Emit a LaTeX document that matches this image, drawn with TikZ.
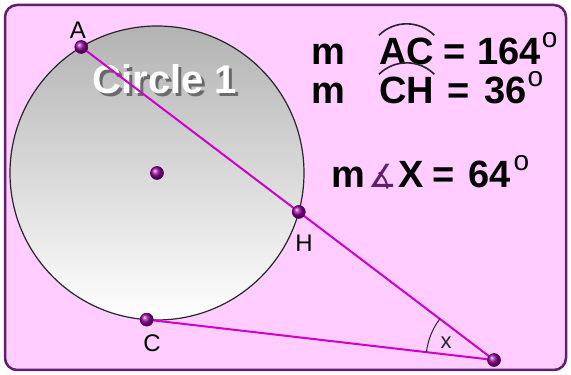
\documentclass[tikz,border=0pt]{standalone}
\usepackage{fontspec}
\setmainfont{Liberation Sans}
\newfontfamily\symfont{DejaVu Sans}
\usetikzlibrary{angles, calc, positioning}

\definecolor{pinkbg}{RGB}{255,205,255}
\definecolor{framecol}{RGB}{96,30,110}
\definecolor{segcol}{RGB}{205,0,205}
\definecolor{dotcol}{RGB}{150,0,160}

\newcommand{\dg}{\kern1pt\raisebox{0.47em}{\fontsize{28}{28}\selectfont\mdseries o}}

\tikzset{
    seg/.style={segcol, line width=2pt},
    dot/.style={circle, inner sep=0pt, minimum size=13pt, draw=dotcol!60!black, line width=0.6pt, ball color=dotcol},
    ptlabel/.style={font=\fontsize{24}{24}\selectfont, inner sep=0pt},
    eqtext/.style={font=\fontsize{38}{38}\selectfont\bfseries, inner sep=0pt, anchor=base west},
    arcmark/.style={line width=1.6pt, black!85}
}

\begin{document}
\begin{tikzpicture}[x=1pt, y=1pt]
    \useasboundingbox (0,0) rectangle (571,375);
    % Frame
    \draw[framecol, line width=2.5pt, fill=pinkbg, rounded corners=12pt] (5,5) rectangle (566,370);
    % Circle and its points
    \coordinate (O) at (157,202);
    \def\r{147}
    \shade[top color=black!30, bottom color=white] (O) circle (\r);
    \draw[black!85, line width=1.2pt] (O) circle (\r);
    \coordinate (A) at ($(O)+(121:\r)$);
    \coordinate (C) at ($(O)+(266:\r)$);
    \coordinate (V) at (494,15);
    \coordinate (H) at ($(A)!0.527!(V)$);
    % Label inside the circle
    \node[font=\fontsize{40}{40}\selectfont\bfseries, black, opacity=0.45] (circshadow) at (168,293) {Circle 1};
    \node[font=\fontsize{40}{40}\selectfont\bfseries, white] (circlab) at (165,296) {Circle 1};
    % Secant and tangent
    \draw[seg] (A) -- (V);
    \draw[seg] (C) -- (V);
    \pic[draw, black!85, line width=1pt, angle radius=68pt] {angle = A--V--C};
    \node[font=\fontsize{22}{22}\selectfont, black!85] (xlab) at (446,32) {x};
    % Points
    \node[dot] (pA) at (A) {};
    \node[dot] (pH) at (H) {};
    \node[dot] (pC) at (C) {};
    \node[dot] (pV) at (V) {};
    \node[dot] (pO) at (O) {};
    \node[ptlabel] (labA) at (78,345) {A};
    \node[ptlabel] (labH) at (304,132) {H};
    \node[ptlabel] (labC) at (152,32) {C};
    % Measures
    \node[eqtext] (m1) at (311,310) {m};
    \node[eqtext] (ac) at (379,310) {AC};
    \node[eqtext] (eq1) at (443,310) {=\hspace{12pt}164\dg};
    \draw[arcmark] ([yshift=3pt]ac.north west) to[bend left=45] ([yshift=3pt]ac.north east);
    \node[eqtext] (m2) at (311,271) {m};
    \node[eqtext] (ch) at (379,271) {CH};
    \node[eqtext] (eq2) at (447,271) {=\hspace{15pt}36\dg};
    \draw[arcmark] ([yshift=3pt]ch.north west) to[bend left=45] ([yshift=3pt]ch.north east);
    \node[eqtext] (m3) at (331,187) {m};
    \node[eqtext, font=\fontsize{32}{32}\selectfont\symfont, framecol] (angsign) at (368,187) {∡};
    \node[eqtext] (x3) at (398,187) {X};
    \node[eqtext] (eq3) at (432,187) {=\hspace{14pt}64\kern2pt\dg};
\end{tikzpicture}
\end{document}
